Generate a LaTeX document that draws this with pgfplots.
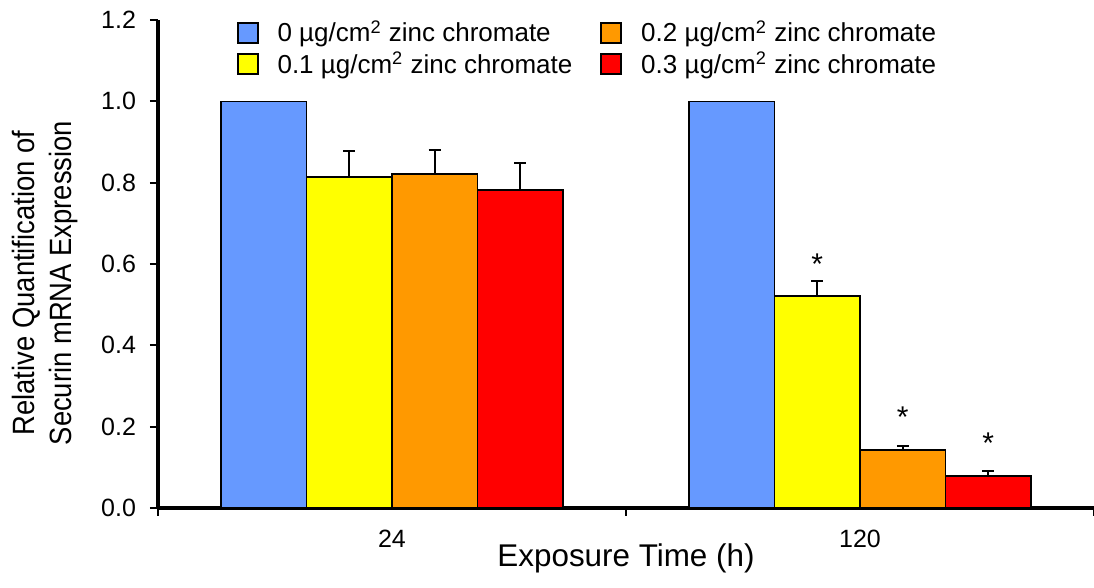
\documentclass[border=0pt]{standalone}
\usepackage{fontspec}
\setmainfont{Liberation Sans}
\newfontfamily\ylabfont[FakeStretch=0.89]{Liberation Sans}
\usepackage{pgfplots}
\pgfplotsset{compat=1.18}
\definecolor{cblue}{HTML}{6699FF}
\definecolor{cyellow}{HTML}{FFFF00}
\definecolor{corange}{HTML}{FF9900}
\definecolor{cred}{HTML}{FF0000}
\pgfplotsset{
  sqlegend/.style={legend image code/.code={\draw[##1, draw=black, line width=0.9pt] (0pt,-5pt) rectangle (10pt,5pt);}},
  barsty/.style={draw=black, line width=0.8pt, sqlegend},
  errsty/.style={error bars/.cd, y dir=plus, y explicit,
     error bar style={line width=1pt, black},
     error mark options={rotate=90, mark size=3pt, line width=1pt, black}},
  starsty/.style={draw=none, fill=none, forget plot, nodes near coords={*},
     nodes near coords style={anchor=base, yshift=11pt, font=\fontsize{15}{17}\selectfont, text=black}},
}
\begin{document}
\begin{tikzpicture}
\begin{axis}[
  at={(0,0)}, anchor=south west,
  scale only axis, width=468pt, height=244pt,
  xmin=-0.5, xmax=1.5, ymin=0, ymax=1.2,
  axis x line*=bottom, axis y line*=left,
  x axis line style={line width=1.75pt, -},
  y axis line style={line width=1.75pt, -},
  ybar=0pt, bar width=42.75pt,
  xtick={0,1}, xticklabels={24,120},
  major x tick style={draw=none},
  minor xtick={-0.5,0.5,1.5},
  minor tick length=4pt,
  ytick={0,0.2,0.4,0.6,0.8,1.0,1.2},
  tick align=outside, major tick length=4pt,
  tick style={line width=1pt, black},
  minor tick style={line width=1pt, black},
  /pgf/number format/assume math mode=true,
  yticklabel style={/pgf/number format/fixed, /pgf/number format/fixed zerofill, /pgf/number format/precision=1, xshift=-3.5pt},
  tick label style={font=\fontsize{12.5}{14}\selectfont},
  xticklabel style={yshift=-3.5pt},
  xlabel={Exposure Time (h)},
  xlabel style={font=\fontsize{15.7}{18}\selectfont, at={(axis description cs:0.5,0)}, anchor=base, yshift=-29.5pt},
  ylabel={Relative Quantification of\\Securin mRNA Expression},
  ylabel style={font=\ylabfont\fontsize{15.4}{18.5}\selectfont, align=center, at={(axis description cs:-0.0849,0.461)}, anchor=south, inner sep=0pt},
  legend columns=2, transpose legend,
  legend cell align=left,
  legend style={at={(axis description cs:0.0773,1.0)}, anchor=north west, draw=none, fill=none,
     font=\fontsize{13}{15.5}\selectfont, row sep=-0.5pt, yshift=4pt,
     /tikz/every odd column/.append style={column sep=7.5pt},
     /tikz/every even column/.append style={column sep=12pt}},
]
\addplot[barsty, fill=cblue, bar shift=-64.125pt] coordinates {(0,1.0) (1,1.0)};
\addplot[barsty, fill=cyellow, bar shift=-21.375pt, errsty] coordinates {(0,0.814) +- (0,0.064) (1,0.521) +- (0,0.037)};
\addplot[barsty, fill=corange, bar shift=21.375pt, errsty] coordinates {(0,0.821) +- (0,0.059) (1,0.143) +- (0,0.010)};
\addplot[barsty, fill=cred, bar shift=64.125pt, errsty] coordinates {(0,0.782) +- (0,0.066) (1,0.079) +- (0,0.012)};
\legend{0 µg/cm\textsuperscript{2} zinc chromate, 0.1 µg/cm\textsuperscript{2} zinc chromate, 0.2 µg/cm\textsuperscript{2} zinc chromate, 0.3 µg/cm\textsuperscript{2} zinc chromate}
\addplot[starsty, bar shift=-21.375pt] coordinates {(1,0.521)};
\addplot[starsty, bar shift=21.375pt] coordinates {(1,0.143)};
\addplot[starsty, bar shift=64.125pt] coordinates {(1,0.079)};
\end{axis}
\pgfresetboundingbox
\path (-79pt,-40pt) rectangle (468pt,254pt);
\end{tikzpicture}
\end{document}
